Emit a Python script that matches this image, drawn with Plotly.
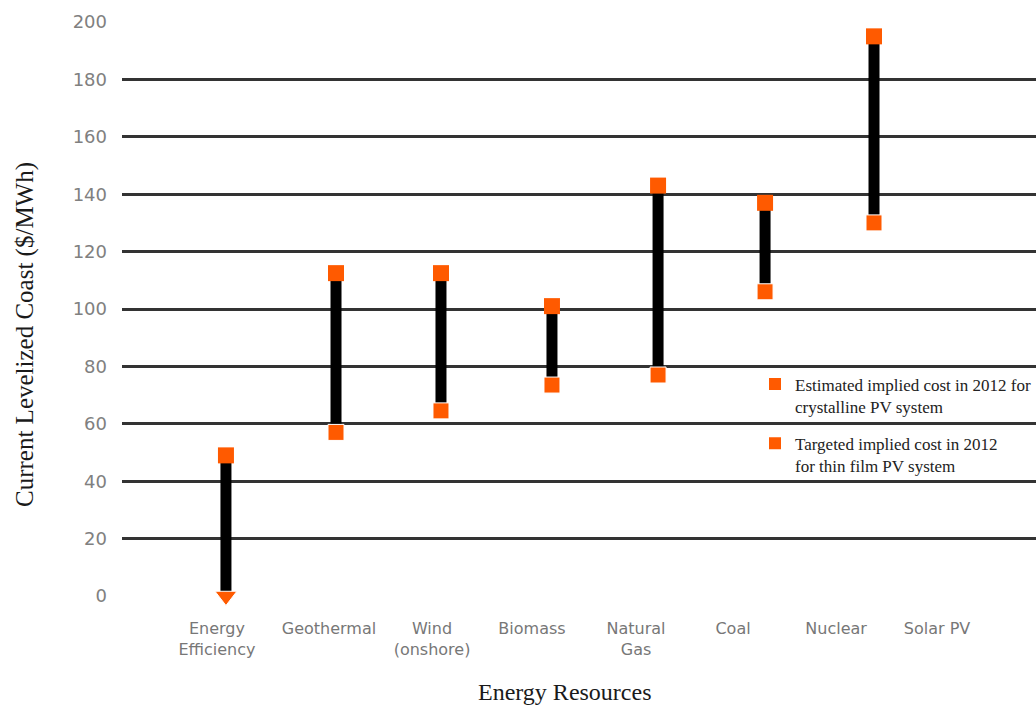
import plotly.graph_objects as go

categories = ["Energy<br>Efficiency", "Geothermal", "Wind<br>(onshore)", "Biomass",
              "Natural<br>Gas", "Coal", "Nuclear", "Solar PV"]
label_pos = [0, 1.098, 2.108, 3.088, 4.108, 5.059, 6.069, 7.059]
bar_pos = [0.088, 1.167, 2.196, 3.284, 4.324, 5.373, 6.441]
low_vals = [0, 57, 64.5, 73.5, 77, 106, 130]
high_vals = [49, 112.5, 112.5, 101, 143, 137, 195]
low_symbols = ["triangle-down", "square", "square", "square", "square", "square", "square"]
low_sizes = [19, 16, 16, 16, 16, 16, 16]
y_ticks = [0, 20, 40, 60, 80, 100, 120, 140, 160, 180, 200]
legend_names = ["Estimated implied cost in 2012 for<br>crystalline PV system",
                "Targeted implied cost in 2012<br>for thin film PV system"]

ORANGE = "#FF5A00"

fig = go.Figure()
for x, lo, hi in zip(bar_pos, low_vals, high_vals):
    fig.add_trace(go.Scatter(x=[x, x], y=[lo, hi], mode="lines",
                             line=dict(color="black", width=11),
                             showlegend=False, hoverinfo="skip", cliponaxis=False))

fig.add_trace(go.Scatter(x=bar_pos, y=high_vals, mode="markers",
                         marker=dict(symbol="square", size=16, color=ORANGE, opacity=1),
                         name=legend_names[0], showlegend=False, cliponaxis=False))
fig.add_trace(go.Scatter(x=bar_pos, y=low_vals, mode="markers",
                         marker=dict(symbol=low_symbols, size=low_sizes, color=ORANGE,
                                     opacity=1),
                         name=legend_names[1], showlegend=False, cliponaxis=False))
# legend entries (square swatches)
for i, nm in enumerate(legend_names):
    fig.add_trace(go.Scatter(x=[None], y=[None], mode="markers",
                             marker=dict(symbol="square", size=13, color=ORANGE, opacity=1),
                             name=nm, legendgroup=f"g{i}", showlegend=True))

pw, ph = 1036 - 122, 706 - 22 - 110


def px_to_paper(px, py):
    return (px - 122) / pw, (706 - 110 - py) / ph


ytx, yty = px_to_paper(25, 335)
xtx, xty = px_to_paper(565, 692)

fig.update_layout(
    width=1036, height=706,
    margin=dict(l=122, r=0, t=22, b=110),
    plot_bgcolor="white", paper_bgcolor="white",
    showlegend=True,
    legend=dict(x=0.6926, y=0.40, xanchor="left", yanchor="top",
                bgcolor="rgba(0,0,0,0)", valign="top",
                font=dict(family="Liberation Serif", size=17, color="#222"),
                tracegroupgap=12, itemsizing="constant"),
    xaxis=dict(range=[-0.931, 8.029], tickmode="array", tickvals=label_pos,
               ticktext=categories, showgrid=False, zeroline=False,
               showline=False, ticks="", ticklabelstandoff=21,
               tickfont=dict(family="DejaVu Sans", size=16, color="#777777")),
    yaxis=dict(range=[0, 200], tickmode="array", tickvals=y_ticks,
               showgrid=True, gridcolor="#333333", gridwidth=2.5,
               zeroline=False, showline=False, ticks="", ticklabelstandoff=14,
               tickfont=dict(family="DejaVu Sans", size=18, color="#808080")),
    annotations=[
        dict(text="Current Levelized Coast ($/MWh)", textangle=-90,
             x=ytx, y=yty, xref="paper", yref="paper", showarrow=False,
             xanchor="center", yanchor="middle",
             font=dict(family="Liberation Serif", size=25, color="#1a1a1a")),
        dict(text="Energy Resources", x=xtx, y=xty, xref="paper", yref="paper",
             showarrow=False, xanchor="center", yanchor="middle",
             font=dict(family="Liberation Serif", size=24, color="#1a1a1a")),
    ],
)

fig.write_html("out.html", config={"displayModeBar": False},
               post_script="document.body.style.margin='0';")
